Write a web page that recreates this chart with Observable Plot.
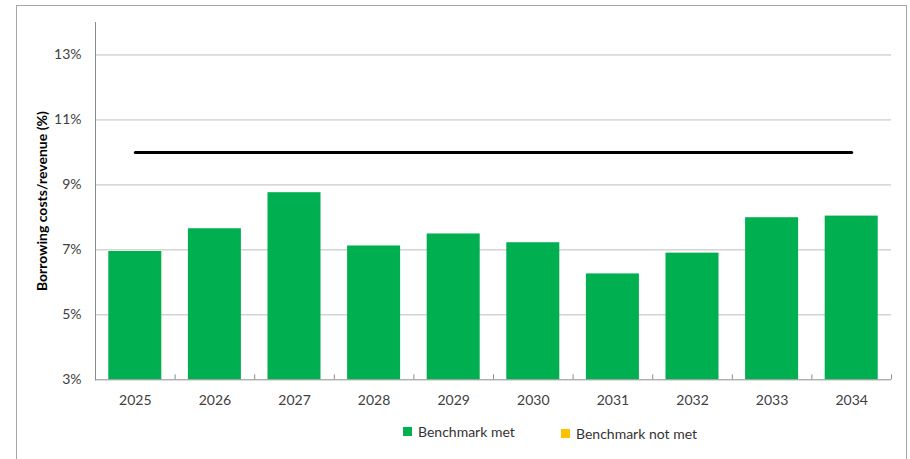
<!DOCTYPE html>
<html>
<head>
<meta charset="utf-8">
<script src="https://cdn.jsdelivr.net/npm/d3@7"></script>
<script src="https://cdn.jsdelivr.net/npm/@observablehq/plot@0.6"></script>
<style>
  html, body { margin: 0; padding: 0; background: #fff; }
  #wrap { position: relative; width: 910px; height: 459px; overflow: hidden; font-family: Lato, "Open Sans", sans-serif; }
  #border { position: absolute; left: 16px; top: 5px; width: 891px; height: 470px; border: 1px solid #a6a6a6; box-sizing: border-box; }
  #chart svg { display: block; }
  #chart g[aria-label="y-axis label"] text { font-weight: bold; fill: #000; font-size: 14px; }
  #legend { position: relative; height: 44px; font-size: 14px; color: #333; }
  .item { position: absolute; top: 10px; display: flex; align-items: center; }
  .sw { width: 9px; height: 9px; margin-right: 6px; }
</style>
</head>
<body>
<div id="wrap">
  <div id="border"></div>
  <div id="chart"></div>
  <div id="legend"></div>
</div>
<script>
const years = ["2025","2026","2027","2028","2029","2030","2031","2032","2033","2034"];
const values = [6.95, 7.65, 8.76, 7.12, 7.49, 7.22, 6.26, 6.90, 7.99, 8.04];
const benchmark = 10;
const yTicks = [3, 5, 7, 9, 11, 13];
const yMax = 14;
const seriesNames = ["Benchmark met", "Benchmark not met"];
const seriesColors = ["#00B050", "#FFC000"];

const baseline = yTicks[0];
const data = years.map((year, i) => ({year, value: values[i]}));
const benchLine = [years[0], years[years.length - 1]].map(year => ({year, value: benchmark}));

const W = 910, H = 415, mL = 95, mR = 19;
const step = (W - mL - mR) / years.length;

const chart = Plot.plot({
  width: W,
  height: H,
  marginLeft: mL,
  marginRight: mR,
  marginTop: 22,
  marginBottom: H - 379.3,
  style: {fontFamily: "Lato, 'Open Sans', sans-serif", fontSize: "14px", color: "#404040", background: "transparent"},
  x: {domain: years, paddingInner: 0.334, paddingOuter: 0.167, round: false},
  y: {domain: [baseline, yMax]},
  marks: [
    Plot.gridY(yTicks.slice(1), {stroke: "#bdbdbd", strokeOpacity: 1}),
    Plot.barY(data, {x: "year", y1: baseline, y2: "value", fill: seriesColors[0]}),
    Plot.lineY(benchLine, {x: "year", y: "value", stroke: "#000", strokeWidth: 3}),
    Plot.ruleY([baseline], {stroke: "#8c8c8c"}),
    Plot.frame({anchor: "left", stroke: "#8c8c8c"}),
    Plot.ruleX(years, {x: d => d, y1: baseline, y2: baseline, insetBottom: 5, dx: -step / 2, stroke: "#8c8c8c"}),
    Plot.ruleX(years.slice(-1), {x: d => d, y1: baseline, y2: baseline, insetBottom: 5, dx: step / 2, stroke: "#8c8c8c"}),
    Plot.axisY(yTicks, {tickSize: 0, tickPadding: 14, tickFormat: d => d + "%", label: "Borrowing costs/revenue (%)", labelAnchor: "center", labelArrow: "none", labelOffset: 58}),
    Plot.axisX({tickSize: 0, tickPadding: 15, label: null})
  ]
});
document.getElementById("chart").appendChild(chart);

const legend = document.getElementById("legend");
const legendX = [403, 561];
seriesNames.forEach((name, i) => {
  const item = document.createElement("div");
  item.className = "item";
  item.style.left = legendX[i] + "px";
  item.style.top = (i === 0 ? 8 : 10) + "px";
  const sw = document.createElement("span");
  sw.className = "sw";
  sw.style.background = seriesColors[i];
  const t = document.createElement("span");
  t.textContent = name;
  item.appendChild(sw);
  item.appendChild(t);
  legend.appendChild(item);
});
</script>
</body>
</html>
